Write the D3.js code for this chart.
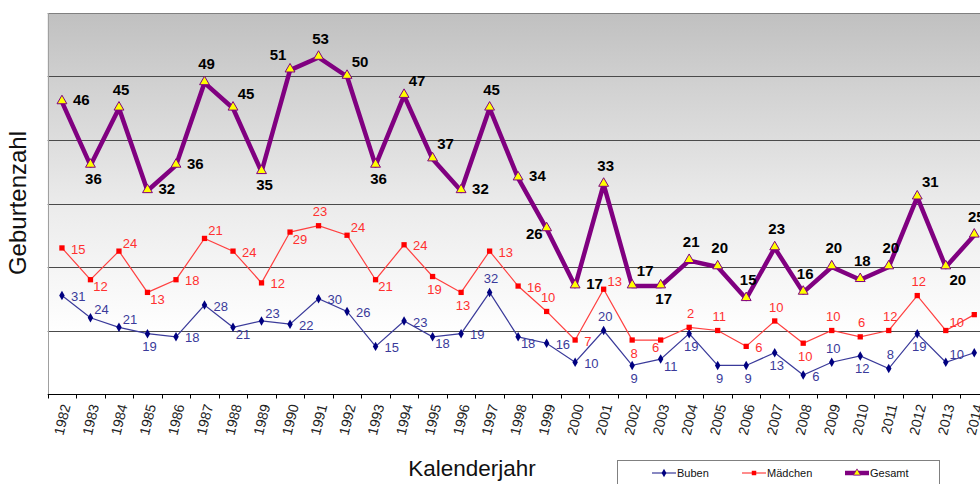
<!DOCTYPE html>
<html>
<head>
<meta charset="utf-8">
<script src="https://cdn.jsdelivr.net/npm/d3@7"></script>
<style>
body { margin: 0; background: #fff; }
svg { display: block; font-family: "Liberation Sans", Arial, sans-serif; }
</style>
</head>
<body>
<div id="chart"></div>
<script>
// data
var years = [1982,1983,1984,1985,1986,1987,1988,1989,1990,1991,1992,1993,1994,1995,1996,1997,
             1998,1999,2000,2001,2002,2003,2004,2005,2006,2007,2008,2009,2010,2011,2012,2013,2014];
var buben = [31,24,21,19,18,28,21,23,22,30,26,15,23,18,19,32,18,16,10,20,9,11,19,9,9,13,6,10,12,8,19,10,13];
var maedchen = [15,12,24,13,18,21,24,12,29,23,24,21,24,19,13,13,16,10,7,13,8,6,2,11,6,10,10,10,6,12,12,10,12];
var gesamt = [46,36,45,32,36,49,45,35,51,53,50,36,47,37,32,45,34,26,17,33,17,17,21,20,15,23,16,20,18,20,31,20,25];
var seriesNames = ["Buben", "Mädchen", "Gesamt"];

// where each data label sits relative to its point
var bubenPos = ["r","tr","tr","b","r","r","br","tr","r","r","r","r","r","br","r","t","br","r","r","t",
                "b","br","b","b","b","b","r","t","b","t","b","tr","r"];
var maedchenPos = ["r","br","tr","br","r","tr","r","r","br","t","tr","br","r","b","b","r","r","t","r","tr",
                   "b","bl","t","t","r","t","b","t","t","t","t","tr","r"];
var gesamtPos = ["r","b","t","r","r","t","tr","b","tl","t","tr","b","tr","tr","r","t","r","l","r","t",
                 "tr","b","t","t","t","t","t","t","t","t","tr","br","t"];

var width = 980, height = 484;

var svg = d3.select("#chart").append("svg")
    .attr("width", width)
    .attr("height", height);

var x = d3.scaleBand()
    .domain(years)
    .range([47.7, 47.7 + 33 * 28.51]);

// primary axis for Gesamt, secondary (stacked) axis for Buben / Mädchen
var y = d3.scaleLinear().domain([0, 60]).range([394, 13]);
var y2 = d3.scaleLinear().domain([0, 120]).range([394, 13]);

var cx = function(i) { return x(years[i]) + x.bandwidth() / 2; };

// background gradient
var defs = svg.append("defs");
var grad = defs.append("linearGradient").attr("id", "bg")
    .attr("x1", 0).attr("y1", 0).attr("x2", 0).attr("y2", 1);
grad.append("stop").attr("offset", "0").attr("stop-color", "#c0c0c0");
grad.append("stop").attr("offset", "0.2").attr("stop-color", "#d2d2d2");
grad.append("stop").attr("offset", "0.5").attr("stop-color", "#ebebeb");
grad.append("stop").attr("offset", "0.85").attr("stop-color", "#ffffff");

svg.append("rect")
    .attr("x", x.range()[0])
    .attr("y", y(60))
    .attr("width", x.range()[1] - x.range()[0])
    .attr("height", y(0) - y(60))
    .attr("fill", "url(#bg)");

// gridlines
svg.append("g").selectAll("line")
    .data([10, 20, 30, 40, 50])
    .enter().append("line")
    .attr("x1", x.range()[0]).attr("x2", x.range()[1])
    .attr("y1", function(d) { return Math.round(y(d)) + 0.5; })
    .attr("y2", function(d) { return Math.round(y(d)) + 0.5; })
    .attr("stroke", "#4a4a4a");

// top border and left axis
svg.append("line")
    .attr("x1", x.range()[0]).attr("x2", x.range()[1])
    .attr("y1", Math.round(y(60)) + 0.5).attr("y2", Math.round(y(60)) + 0.5)
    .attr("stroke", "#808080");
svg.append("line")
    .attr("x1", 48.5).attr("x2", 48.5)
    .attr("y1", y(60)).attr("y2", y(0))
    .attr("stroke", "#a0a0a0");

// x axis
var xAxis = svg.append("g")
    .attr("transform", "translate(0," + (Math.round(y(0)) + 0.5) + ")");
xAxis.append("line")
    .attr("x1", x.range()[0]).attr("x2", x.range()[1])
    .attr("stroke", "#000");
xAxis.selectAll(".tick")
    .data(years)
    .enter().append("line")
    .attr("x1", function(d) { return Math.round(x(d)) + 0.5; })
    .attr("x2", function(d) { return Math.round(x(d)) + 0.5; })
    .attr("y1", 0).attr("y2", 4)
    .attr("stroke", "#000");
xAxis.selectAll(".yl")
    .data(years)
    .enter().append("text")
    .attr("transform", function(d) {
        return "translate(" + (x(d) + x.bandwidth() / 2 + 4) + ",10) rotate(-76)";
    })
    .attr("text-anchor", "end")
    .attr("dy", "0.35em")
    .attr("font-size", 14)
    .attr("fill", "#222")
    .text(function(d) { return d; });

// lines
var lineB = d3.line().x(function(d, i) { return cx(i); }).y(function(d) { return y2(d); });
var lineM = d3.line().x(function(d, i) { return cx(i); }).y(function(d, i) { return y2(buben[i] + d); });
var lineG = d3.line().x(function(d, i) { return cx(i); }).y(function(d) { return y(d); });

svg.append("path").datum(buben)
    .attr("d", lineB).attr("fill", "none")
    .attr("stroke", "#3a3a9a").attr("stroke-width", 1.2);
svg.selectAll(".mb").data(buben).enter().append("path")
    .attr("transform", function(d, i) { return "translate(" + cx(i) + "," + y2(d) + ")"; })
    .attr("d", d3.symbol().type(d3.symbolDiamond).size(26))
    .attr("fill", "#000080");

svg.append("path").datum(maedchen)
    .attr("d", lineM).attr("fill", "none")
    .attr("stroke", "#ff4040").attr("stroke-width", 1.2);
svg.selectAll(".mm").data(maedchen).enter().append("path")
    .attr("transform", function(d, i) { return "translate(" + cx(i) + "," + y2(buben[i] + d) + ")"; })
    .attr("d", d3.symbol().type(d3.symbolSquare).size(28))
    .attr("fill", "#ff0000");

svg.append("path").datum(gesamt)
    .attr("d", lineG).attr("fill", "none")
    .attr("stroke", "#800080").attr("stroke-width", 4.5)
    .attr("stroke-linejoin", "round");
svg.selectAll(".mg").data(gesamt).enter().append("path")
    .attr("transform", function(d, i) { return "translate(" + cx(i) + "," + (y(d) - 1) + ")"; })
    .attr("d", d3.symbol().type(d3.symbolTriangle).size(42))
    .attr("fill", "#ffff00")
    .attr("stroke", "#800080").attr("stroke-width", 1);

// data labels
var smallOff = {
    r: [9, 1, "start"], t: [1.5, -14, "middle"], b: [2, 13, "middle"],
    tr: [11, -8, "middle"], br: [10, 7, "middle"], bl: [-5, 7, "middle"]
};
var bigOff = {
    r: [11, -2, "start"], t: [2, -19, "middle"], b: [3, 13, "middle"],
    tr: [13, -15, "middle"], tl: [-12, -15, "middle"], l: [-4, 5, "end"], br: [12, 13, "middle"]
};

function labels(values, pos, yFn, off, color, size, weight) {
    svg.append("g").selectAll("text")
        .data(values)
        .enter().append("text")
        .attr("x", function(d, i) { return cx(i) + off[pos[i]][0]; })
        .attr("y", function(d, i) { return yFn(d, i) + off[pos[i]][1]; })
        .attr("text-anchor", function(d, i) { return off[pos[i]][2]; })
        .attr("dy", "0.35em")
        .attr("font-family", "'Liberation Sans Narrow', 'Arial Narrow', 'Liberation Sans', sans-serif")
        .attr("font-size", size)
        .attr("font-weight", weight)
        .attr("fill", color)
        .text(function(d) { return d; });
}

labels(buben, bubenPos, function(d) { return y2(d); }, smallOff, "#3a3a9a", 13, "normal");
labels(maedchen, maedchenPos, function(d, i) { return y2(buben[i] + d); }, smallOff, "#ff3030", 13, "normal");
labels(gesamt, gesamtPos, function(d) { return y(d); }, bigOff, "#000", 15, "bold");

// axis titles
svg.append("text")
    .attr("transform", "translate(26,203) rotate(-90)")
    .attr("text-anchor", "middle")
    .attr("font-size", 24)
    .attr("fill", "#111")
    .text("Geburtenzahl");

svg.append("text")
    .attr("x", 472).attr("y", 476)
    .attr("text-anchor", "middle")
    .attr("font-size", 22.5)
    .attr("fill", "#111")
    .text("Kalenderjahr");

// legend
var legend = svg.append("g");
legend.append("rect")
    .attr("x", 617.5).attr("y", 460.5)
    .attr("width", 322).attr("height", 40)
    .attr("fill", "#fff").attr("stroke", "#808080");

var legX = [652, 742, 845];
var legColor = ["#3a3a9a", "#ff4040", "#800080"];
var legWidth = [1.2, 1.2, 4.5];
var legSym = [d3.symbolDiamond, d3.symbolSquare, d3.symbolTriangle];
var legFill = ["#000080", "#ff0000", "#ffff00"];

seriesNames.forEach(function(name, i) {
    var g = legend.append("g").attr("transform", "translate(" + legX[i] + ",473)");
    g.append("line")
        .attr("x1", 0).attr("x2", 24)
        .attr("stroke", legColor[i]).attr("stroke-width", legWidth[i]);
    g.append("path")
        .attr("transform", "translate(12,0)")
        .attr("d", d3.symbol().type(legSym[i]).size(i == 2 ? 22 : 20))
        .attr("fill", legFill[i])
        .attr("stroke", i == 2 ? "#800080" : "none")
        .attr("stroke-width", 0.8);
    g.append("text")
        .attr("x", 25).attr("dy", "0.35em")
        .attr("font-size", 11)
        .attr("fill", "#111")
        .text(name);
});
</script>
</body>
</html>
